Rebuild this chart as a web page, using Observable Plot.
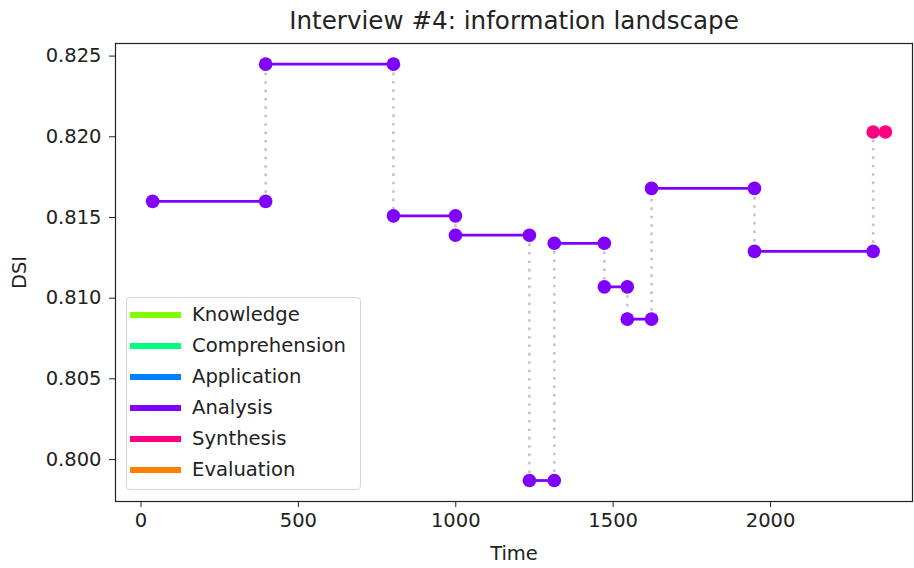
<!DOCTYPE html>
<html>
<head>
<meta charset="utf-8">
<script src="https://cdn.jsdelivr.net/npm/d3@7"></script>
<script src="https://cdn.jsdelivr.net/npm/@observablehq/plot@0.6"></script>
<style>
  html, body { margin: 0; padding: 0; background: #fff; }
  #wrap { position: relative; width: 914px; height: 568px; font-family: "DejaVu Sans", sans-serif; }
  #legend { position: absolute; left: 126px; top: 297px; width: 235px; height: 193px;
            border: 1px solid #d6d6d6; border-radius: 4px; background: rgba(255,255,255,0.85); box-sizing: border-box; }
  .row { position: absolute; left: 0; height: 24px; display: flex; align-items: center; }
  .sw { position: absolute; left: 3px; width: 51px; height: 6px; }
  .lab { position: absolute; left: 65px; font-size: 19.6px; color: #222; white-space: nowrap; line-height: 24px; }
</style>
</head>
<body>
<div id="wrap"></div>
<script>
// ---- data ----
const title = "Interview #4: information landscape";
const times = [37, 396, 802, 999, 1234, 1313, 1472, 1545, 1622, 1949, 2326, 2365];
const dsi = [0.8160, 0.8245, 0.8151, 0.8139, 0.7987, 0.8134, 0.8107, 0.8087, 0.8168, 0.8129, 0.8203];
const levels = ["Analysis", "Analysis", "Analysis", "Analysis", "Analysis", "Analysis",
                "Analysis", "Analysis", "Analysis", "Analysis", "Synthesis"];
const categories = ["Knowledge", "Comprehension", "Application", "Analysis", "Synthesis", "Evaluation"];
const palette = ["#80ff00", "#00ff80", "#0080ff", "#8000ff", "#ff0080", "#ff8000"];
const xTicks = [0, 500, 1000, 1500, 2000];
const yTicks = [0.800, 0.805, 0.810, 0.815, 0.820, 0.825];

// ---- derived tables ----
const segments = dsi.map((v, i) => ({x1: times[i], x2: times[i + 1], y: v, level: levels[i]}));
const connectors = dsi.slice(1).map((v, i) => ({x: times[i + 1], y1: dsi[i], y2: v}));
const endpoints = segments.flatMap(s => [{x: s.x1, y: s.y, level: s.level}, {x: s.x2, y: s.y, level: s.level}]);

const chart = Plot.plot({
  width: 914,
  height: 568,
  marginLeft: 115,
  marginRight: 2,
  marginTop: 43,
  marginBottom: 67,
  style: {fontFamily: "DejaVu Sans, sans-serif", fontSize: "19.5px", color: "#222", background: "white"},
  x: {domain: [-81, 2451]},
  y: {domain: [0.7974, 0.82578]},
  color: {domain: categories, range: palette},
  marks: [
    Plot.axisX({ticks: xTicks, tickFormat: d3.format("d"), tickSize: 6, tickPadding: 6, fontSize: 19.5, label: "Time",
                labelAnchor: "center", labelArrow: "none", labelOffset: 58}),
    Plot.axisY({ticks: yTicks, tickFormat: d3.format(".3f"), tickSize: 6, tickPadding: 8, fontSize: 19.5,
                label: "DSI", labelAnchor: "center", labelArrow: "none", labelOffset: 103}),
    Plot.link(connectors, {x1: "x", x2: "x", y1: "y1", y2: "y2", stroke: "#c4c4c4",
                           strokeWidth: 2.6, strokeDasharray: "2.6,5.8"}),
    Plot.link(segments, {x1: "x1", x2: "x2", y1: "y", y2: "y", stroke: "level", strokeWidth: 2.8}),
    Plot.dot(endpoints, {x: "x", y: "y", r: 6.8, fill: "level", stroke: "none"}),
    Plot.frame({stroke: "#222", strokeWidth: 1.2}),
    Plot.text([title], {frameAnchor: "top", dy: -22, fontSize: 24.6, fill: "#222", lineAnchor: "middle"})
  ]
});

const wrap = document.getElementById("wrap");
wrap.appendChild(chart);

// legend (HTML overlay)
const legend = document.createElement("div");
legend.id = "legend";
categories.forEach((c, i) => {
  const row = document.createElement("div");
  row.className = "row";
  row.style.top = (5.3 + i * 30.9) + "px";
  const sw = document.createElement("div");
  sw.className = "sw";
  sw.style.background = palette[i];
  sw.style.top = "9px";
  const lab = document.createElement("div");
  lab.className = "lab";
  lab.textContent = c;
  row.appendChild(sw);
  row.appendChild(lab);
  legend.appendChild(row);
});
wrap.appendChild(legend);
</script>
</body>
</html>
